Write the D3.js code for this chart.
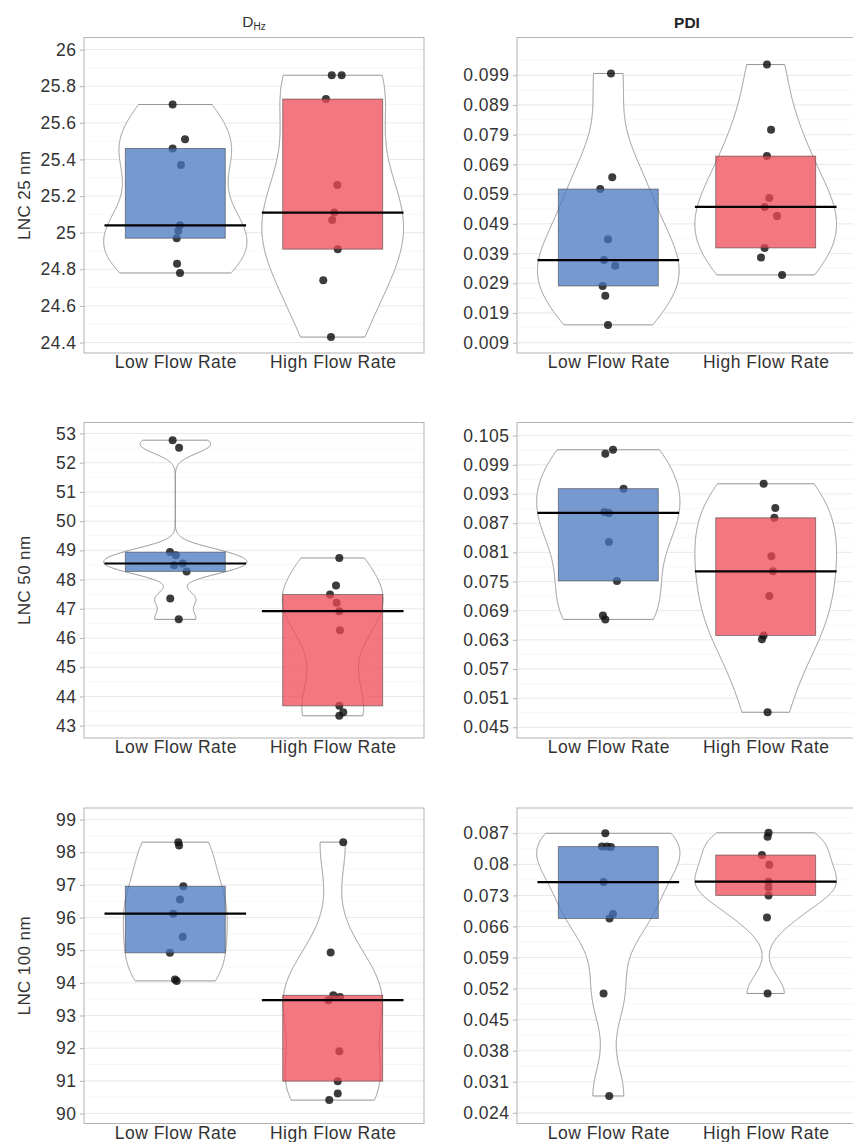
<!DOCTYPE html>
<html><head><meta charset="utf-8">
<script src="https://cdn.jsdelivr.net/npm/d3@7"></script>
<style>
body{margin:0;background:#fff}
svg{display:block}
text{font-family:"Liberation Sans",Arial,Helvetica,sans-serif}
</style>
</head><body>
<svg id="chart" width="853" height="1142"></svg>
<script>
// ---------------- data ----------------
const categories = ["Low Flow Rate", "High Flow Rate"];
const rowLabels = ["LNC 25 nm", "LNC 50 nm", "LNC 100 nm"];

// D_Hz, LNC 25 nm
const dhz25Low  = [25.70, 25.51, 25.46, 25.37, 25.04, 25.01, 24.97, 24.83, 24.78];
const dhz25High = [25.86, 25.86, 25.73, 25.26, 25.11, 25.07, 24.91, 24.74, 24.43];
// PDI, LNC 25 nm
const pdi25Low  = [0.0996, 0.0647, 0.0607, 0.0438, 0.0368, 0.0349, 0.0281, 0.0248, 0.0150];
const pdi25High = [0.1026, 0.0807, 0.0718, 0.0577, 0.0547, 0.0516, 0.0409, 0.0377, 0.0318];
// D_Hz, LNC 50 nm
const dhz50Low  = [52.77, 52.51, 48.94, 48.83, 48.55, 48.49, 48.28, 47.35, 46.64];
const dhz50High = [48.74, 47.80, 47.49, 47.21, 46.92, 46.27, 43.68, 43.46, 43.34];
// PDI, LNC 50 nm
const pdi50Low  = [0.1021, 0.1013, 0.0941, 0.0893, 0.0891, 0.0831, 0.0751, 0.0680, 0.0672];
const pdi50High = [0.0951, 0.0901, 0.0881, 0.0802, 0.0771, 0.0720, 0.0639, 0.0631, 0.0481];
// D_Hz, LNC 100 nm
const dhz100Low  = [98.31, 98.21, 96.96, 96.55, 96.12, 95.41, 94.92, 94.10, 94.06];
const dhz100High = [98.31, 94.93, 93.62, 93.57, 93.47, 91.91, 90.99, 90.61, 90.41];
// PDI, LNC 100 nm
const pdi100Low  = [0.0870, 0.0840, 0.0840, 0.0839, 0.0760, 0.0688, 0.0678, 0.0509, 0.0278];
const pdi100High = [0.0871, 0.0862, 0.0821, 0.0799, 0.0761, 0.0748, 0.0730, 0.0680, 0.0509];

// horizontal jitter of each point (fraction of the category step)
const dhz25LowJitter   = [-0.017, 0.062, -0.017, 0.036, 0.030, 0.019, 0.009, 0.011, 0.030];
const dhz25HighJitter  = [-0.006, 0.057, -0.043, 0.029, 0.010, -0.003, 0.032, -0.060, -0.011];
const pdi25LowJitter   = [0.017, 0.025, -0.051, -0.002, -0.027, 0.044, -0.036, -0.019, -0.002];
const pdi25HighJitter  = [0.008, 0.034, 0.008, 0.023, -0.007, 0.072, -0.007, -0.030, 0.104];
const dhz50LowJitter   = [-0.017, 0.024, -0.034, 0.004, 0.047, -0.008, 0.072, -0.032, 0.022];
const dhz50HighJitter  = [0.042, 0.021, -0.017, 0.025, 0.042, 0.046, 0.042, 0.067, 0.042];
const pdi50LowJitter   = [0.030, -0.019, 0.097, -0.025, 0.004, 0.004, 0.055, -0.034, -0.019];
const pdi50HighJitter  = [-0.013, 0.061, 0.055, 0.036, 0.046, 0.023, -0.013, -0.024, 0.012];
const dhz100LowJitter  = [0.019, 0.024, 0.051, 0.030, -0.013, 0.047, -0.034, -0.002, 0.009];
const dhz100HighJitter = [0.067, -0.013, 0.004, 0.046, -0.028, 0.042, 0.032, 0.032, -0.022];
const pdi100LowJitter  = [-0.019, -0.040, -0.008, 0.017, -0.030, 0.030, 0.008, -0.030, 0.006];
const pdi100HighJitter = [0.018, 0.012, -0.024, 0.023, 0.018, 0.018, 0.018, 0.008, 0.012];

// tick values
const dhz25Ticks  = [24.4, 24.6, 24.8, 25, 25.2, 25.4, 25.6, 25.8, 26];
const pdi25Ticks  = [0.009, 0.019, 0.029, 0.039, 0.049, 0.059, 0.069, 0.079, 0.089, 0.099];
const dhz50Ticks  = [43, 44, 45, 46, 47, 48, 49, 50, 51, 52, 53];
const pdi50Ticks  = [0.045, 0.051, 0.057, 0.063, 0.069, 0.075, 0.081, 0.087, 0.093, 0.099, 0.105];
const dhz100Ticks = [90, 91, 92, 93, 94, 95, 96, 97, 98, 99];
const pdi100Ticks = [0.024, 0.031, 0.038, 0.045, 0.052, 0.059, 0.066, 0.073, 0.08, 0.087];

// axis limits [bottom, top]
const dhz25Limits  = [24.343, 26.066];
const pdi25Limits  = [0.00554, 0.1117];
const dhz50Limits  = [42.58, 53.375];
const pdi50Limits  = [0.0428, 0.10771];
const dhz100Limits = [89.694, 99.355];
const pdi100Limits = [0.0216, 0.0927];

// violin maximum widths (category units) [low, high]
const dhz25ViolinWidth  = [0.91, 0.90];
const pdi25ViolinWidth  = [0.90, 0.90];
const dhz50ViolinWidth  = [0.91, 0.64];
const pdi50ViolinWidth  = [0.91, 0.90];
const dhz100ViolinWidth = [0.66, 0.63];
const pdi100ViolinWidth = [0.91, 0.90];

// ---------------- layout / style ----------------
const colX = [84, 517], rowY = [37.5, 422.5, 808], PW = 340, PH = 315.5;
const fills = ["#4676C0", "#EE4853"];
const FONT = 17.5;

const panels = [
  {row:0,col:0,groups:[dhz25Low,dhz25High],jit:[dhz25LowJitter,dhz25HighJitter],ticks:dhz25Ticks,lim:dhz25Limits,vw:dhz25ViolinWidth},
  {row:0,col:1,groups:[pdi25Low,pdi25High],jit:[pdi25LowJitter,pdi25HighJitter],ticks:pdi25Ticks,lim:pdi25Limits,vw:pdi25ViolinWidth},
  {row:1,col:0,groups:[dhz50Low,dhz50High],jit:[dhz50LowJitter,dhz50HighJitter],ticks:dhz50Ticks,lim:dhz50Limits,vw:dhz50ViolinWidth},
  {row:1,col:1,groups:[pdi50Low,pdi50High],jit:[pdi50LowJitter,pdi50HighJitter],ticks:pdi50Ticks,lim:pdi50Limits,vw:pdi50ViolinWidth},
  {row:2,col:0,groups:[dhz100Low,dhz100High],jit:[dhz100LowJitter,dhz100HighJitter],ticks:dhz100Ticks,lim:dhz100Limits,vw:dhz100ViolinWidth},
  {row:2,col:1,groups:[pdi100Low,pdi100High],jit:[pdi100LowJitter,pdi100HighJitter],ticks:pdi100Ticks,lim:pdi100Limits,vw:pdi100ViolinWidth}
];

function kde(vals){
  const n = vals.length;
  const sd = d3.deviation(vals);
  const iqr = d3.quantile(vals, 0.75) - d3.quantile(vals, 0.25);
  const bw = 0.9 * Math.min(sd, iqr / 1.34) * Math.pow(n, -0.2);
  const lo = d3.min(vals), hi = d3.max(vals);
  return d3.range(512).map(i => {
    const v = lo + (hi - lo) * i / 511;
    const dens = d3.mean(vals, d => Math.exp(-0.5 * ((v - d) / bw) ** 2)) / (bw * Math.sqrt(2 * Math.PI));
    return [v, dens];
  });
}

const svg = d3.select("#chart");
const fmt = d3.format("~g");

panels.forEach(p => {
  const x0 = colX[p.col], y0 = rowY[p.row];
  const x = d3.scalePoint().domain(categories).range([x0, x0 + PW]).padding(0.58);
  const y = d3.scaleLinear().domain(p.lim).range([y0 + PH, y0]);
  const step = x.step();
  const g = svg.append("g");

  // grid
  const dt = p.ticks[1] - p.ticks[0];
  const minors = p.ticks.map(v => v - dt / 2).concat([p.ticks[p.ticks.length - 1] + dt / 2])
    .filter(v => v > p.lim[0] && v < p.lim[1]);
  g.selectAll("line.minor").data(minors).join("line").attr("class","minor")
    .attr("x1", x0).attr("x2", x0 + PW).attr("y1", d => y(d)).attr("y2", d => y(d))
    .attr("stroke", "#f3f3f3").attr("stroke-width", 0.7);
  g.selectAll("line.major").data(p.ticks).join("line").attr("class","major")
    .attr("x1", x0).attr("x2", x0 + PW).attr("y1", d => y(d)).attr("y2", d => y(d))
    .attr("stroke", "#e6e6e6").attr("stroke-width", 0.9);

  p.groups.forEach((vals, gi) => {
    const cx = x(categories[gi]);
    const dens = kde(vals);
    const maxD = d3.max(dens, d => d[1]);
    const hw = p.vw[gi] / 2 * step;
    const area = d3.area()
      .y(d => y(d[0]))
      .x0(d => cx - hw * d[1] / maxD)
      .x1(d => cx + hw * d[1] / maxD);
    g.append("path").datum(dens).attr("d", area)
      .attr("fill", "#fff").attr("stroke", "#888").attr("stroke-width", 0.9);

    // points
    g.selectAll(null).data(vals).join("circle")
      .attr("cx", (d, i) => cx + p.jit[gi][i] * step)
      .attr("cy", d => y(d))
      .attr("r", 4)
      .attr("fill", "#111").attr("fill-opacity", 0.82);

    // IQR bar
    const q1 = d3.quantile(vals, 0.25), q3 = d3.quantile(vals, 0.75), med = d3.median(vals);
    const bhw = 0.3175 * step;
    g.append("rect")
      .attr("x", cx - bhw).attr("width", 2 * bhw)
      .attr("y", y(q3)).attr("height", y(q1) - y(q3))
      .attr("fill", fills[gi]).attr("fill-opacity", 0.74)
      .attr("stroke", "#3a3a3a").attr("stroke-opacity", 0.6).attr("stroke-width", 0.9);

    // median line
    g.append("line")
      .attr("x1", cx - 0.45 * step).attr("x2", cx + 0.45 * step)
      .attr("y1", y(med)).attr("y2", y(med))
      .attr("stroke", "#000").attr("stroke-width", 2.2);
  });

  // border
  g.append("rect").attr("x", x0).attr("y", y0).attr("width", PW).attr("height", PH)
    .attr("fill", "none").attr("stroke", "#b3b3b3").attr("stroke-width", 1);

  // y axis
  const ya = g.append("g").attr("transform", `translate(${x0},0)`)
    .call(d3.axisLeft(y).tickValues(p.ticks).tickFormat(fmt).tickSize(4).tickPadding(3.5));
  ya.select(".domain").remove();
  ya.selectAll(".tick line").attr("stroke", "#b3b3b3");
  ya.selectAll(".tick text").attr("fill", "#333")
    .style("font-size", FONT + "px").style("letter-spacing", "0.5px")
    .style("font-family", "'Liberation Sans', Arial, sans-serif");

  // x axis
  const xa = g.append("g").attr("transform", `translate(0,${y0 + PH})`)
    .call(d3.axisBottom(x).tickSize(0).tickPadding(3));
  xa.select(".domain").remove();
  xa.selectAll(".tick text").attr("fill", "#333")
    .style("font-size", FONT + "px").style("letter-spacing", "0.5px")
    .style("font-family", "'Liberation Sans', Arial, sans-serif");

  // row title
  if (p.col === 0) {
    svg.append("text")
      .attr("transform", `translate(30,${y0 + PH / 2}) rotate(-90)`)
      .attr("text-anchor", "middle")
      .attr("fill", "#333").style("font-size", "17px").style("letter-spacing", "0.4px")
      .text(rowLabels[p.row]);
  }
});

// column titles
const t1 = svg.append("text").attr("x", colX[0] + PW / 2).attr("y", 27)
  .attr("text-anchor", "middle").attr("fill", "#333").style("font-size", "15.5px");
t1.append("tspan").text("D");
t1.append("tspan").attr("dy", 3).style("font-size", "10px").text("Hz");

svg.append("text").attr("x", colX[1] + PW / 2).attr("y", 28)
  .attr("text-anchor", "middle").attr("fill", "#222")
  .style("font-size", "15.5px").style("font-weight", "bold").text("PDI");
</script>
</body></html>
